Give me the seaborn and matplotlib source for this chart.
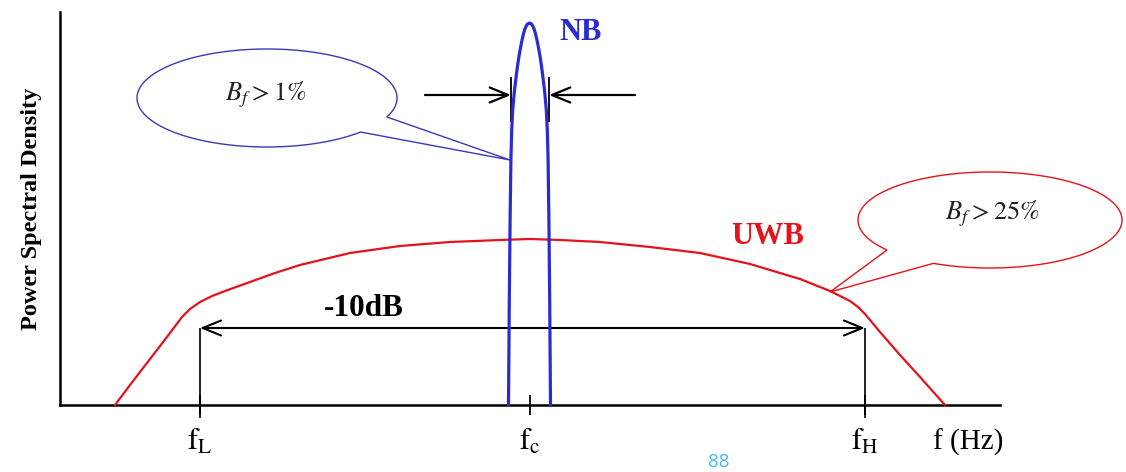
import numpy as np
import matplotlib
matplotlib.use("Agg")
import matplotlib.pyplot as plt
from matplotlib.patches import Polygon
import seaborn as sns

# Spectrum sketch, values (frequency in picture units,
# PSD as height above the f axis)
uwb_f = [115, 130, 150, 170, 182, 190, 200, 212, 225, 250, 275, 300, 350, 400, 450, 500, 530,
         560, 600, 650, 700, 750, 800, 830, 850, 858, 865, 880, 900, 920, 945]
uwb_psd = [0, 20, 46, 72, 88, 96, 103, 109, 114, 123, 132, 140, 152, 159, 163, 165, 166,
           165, 163, 158, 152, 141, 126, 114, 104, 98, 91, 73, 50, 28, 0]

nb_f = [508.5, 509.3, 510.1, 510.9, 511.7, 512.7, 514.3, 516.1, 517.5, 519.2, 521,
        522.5, 523.7, 524.9, 526.2, 527.5, 529.5,
        531.5, 532.8, 534.1, 535.3, 536.5, 538, 539.8, 541.5, 542.9, 544.7,
        546.3, 547.3, 548.1, 548.9, 549.7, 550.5]
nb_psd = [0, 105, 185, 245, 275, 295, 313, 328, 339, 350, 360,
          367, 372, 376, 379, 381, 382,
          381, 379, 376, 372, 367, 360, 350, 339, 328, 313,
          295, 275, 245, 185, 105, 0]

tick_pos = [200, 530, 865]
tick_labels = [r"$\mathrm{f}_{\mathrm{L}}$", r"$\mathrm{f}_{\mathrm{c}}$", r"$\mathrm{f}_{\mathrm{H}}$"]
band_level = 77          # -10 dB line height
nb_marks = [511, 549]    # NB width markers

RED = "#e5121c"
BLUE = "#2b2bd3"

sns.set_theme(style="white")
plt.rcParams["font.family"] = ["Liberation Serif", "DejaVu Serif"]
plt.rcParams["mathtext.fontset"] = "stix"

fig = plt.figure(figsize=(11.26, 4.72), dpi=100)
ax = fig.add_axes([60 / 1126, 67 / 472, 940 / 1126, 393 / 472])
ax.set_xlim(60, 1000)
ax.set_ylim(0, 393)


def h(y_px):
    # picture row -> height above the f axis
    return 405 - y_px


sns.lineplot(x=uwb_f, y=uwb_psd, ax=ax, color=RED, lw=1.6, sort=False,
             estimator=None, clip_on=False, zorder=3)
sns.lineplot(x=nb_f, y=nb_psd, ax=ax, color=BLUE, lw=2.3, sort=False,
             estimator=None, clip_on=False, zorder=4)

# axes look
sns.despine(ax=ax)
for side in ["left", "bottom"]:
    ax.spines[side].set_linewidth(1.8)
    ax.spines[side].set_color("black")
ax.set_yticks([])
ax.set_xticks(tick_pos)
ax.set_xticklabels(tick_labels)
ax.tick_params(axis="x", direction="inout", length=15, width=1.3, pad=9,
               labelsize=22, colors="black", bottom=True)
ax.set_ylabel("Power Spectral Density", fontsize=17.5, fontweight="bold",
              labelpad=13, color="black")

# -10 dB bandwidth
ax.vlines([tick_pos[0], tick_pos[2]], ymin=h(418), ymax=band_level,
          color="black", lw=1.2, clip_on=False)
ax.annotate("", xy=(tick_pos[0], band_level), xytext=(tick_pos[2], band_level),
            arrowprops=dict(arrowstyle="<->,head_length=1.1,head_width=0.45",
                            lw=1.5, color="black", shrinkA=0, shrinkB=0))
ax.text(364, h(308), "-10dB", fontsize=22.5, fontweight="bold", ha="center",
        va="center", color="black")

# NB width markers
ax.vlines(nb_marks, ymin=h(122), ymax=h(77), color="black", lw=1.3)
ax.annotate("", xy=(nb_marks[0], h(95)), xytext=(425, h(95)),
            arrowprops=dict(arrowstyle="->,head_length=1.1,head_width=0.45",
                            lw=1.6, color="black", shrinkA=0, shrinkB=0))
ax.annotate("", xy=(nb_marks[1], h(95)), xytext=(635, h(95)),
            arrowprops=dict(arrowstyle="->,head_length=1.1,head_width=0.45",
                            lw=1.6, color="black", shrinkA=0, shrinkB=0))

ax.text(581, h(33), "NB", fontsize=22, fontweight="bold", color=BLUE,
        ha="center", va="center")
ax.text(768, h(237), "UWB", fontsize=22, fontweight="bold", color=RED,
        ha="center", va="center")


def callout(cx, cy, a, b, t_start, t_end, tip, color):
    t = np.radians(np.linspace(t_start, t_end, 200))
    xs = cx + a * np.cos(t)
    ys = cy + b * np.sin(t)
    pts = list(zip(xs, [h(v) for v in ys]))
    pts.append((tip[0], h(tip[1])))
    poly = Polygon(pts, closed=True, facecolor="white", edgecolor=color,
                   lw=1.0, clip_on=False, zorder=2)
    ax.add_patch(poly)


callout(267, 98, 130, 49, 44, 382.8, (510, 160), "#3a3ab8")
callout(990, 220, 132, 48, 141.3, 475.4, (830, 292), RED)

ax.text(266, h(95), r"$B_f > 1\%$", fontsize=19, ha="center", va="center",
        color="#222222")
ax.text(992, h(214), r"$B_f > 25\%$", fontsize=19, ha="center", va="center",
        color="#222222")

ax.text(968, h(442), "f (Hz)", fontsize=21, ha="center", va="center",
        color="black", clip_on=False)
ax.text(719, h(462), "88", fontsize=13.5, ha="center", va="center",
        color="#4db8e8", family="Open Sans", clip_on=False)

fig.savefig("out.png", dpi=100)
